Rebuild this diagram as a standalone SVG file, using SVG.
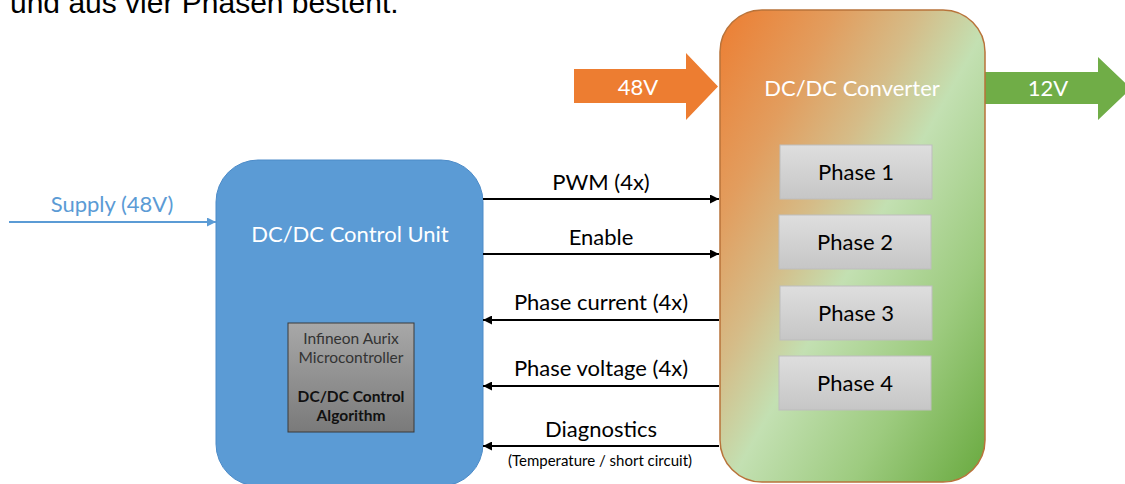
<svg xmlns="http://www.w3.org/2000/svg" width="1125" height="484" viewBox="0 0 1125 484">
  <defs>
    <linearGradient id="convFill" x1="0" y1="0" x2="1" y2="1">
      <stop offset="0" stop-color="#ED7D31"/>
      <stop offset="0.22" stop-color="#E29D5E"/>
      <stop offset="0.38" stop-color="#D5BC88"/>
      <stop offset="0.52" stop-color="#C3E0B2"/>
      <stop offset="0.75" stop-color="#9DCB7F"/>
      <stop offset="1" stop-color="#68A93E"/>
    </linearGradient>
    <linearGradient id="phaseFill" x1="0" y1="0" x2="0" y2="1">
      <stop offset="0" stop-color="#DEDEDE"/>
      <stop offset="1" stop-color="#C6C6C6"/>
    </linearGradient>
    <linearGradient id="mcuFill" x1="0" y1="0" x2="0" y2="1">
      <stop offset="0" stop-color="#A8A8A8"/>
      <stop offset="1" stop-color="#7A7A7A"/>
    </linearGradient>
    <marker id="headBlack" viewBox="0 0 10 10" refX="10" refY="5" markerWidth="4.5" markerHeight="4.5" orient="auto">
      <path d="M0,0 L10,5 L0,10 Z" fill="#000"/>
    </marker>
    <marker id="headBlue" viewBox="0 0 10 10" refX="10" refY="5" markerWidth="4.5" markerHeight="4.5" orient="auto">
      <path d="M0,0 L10,5 L0,10 Z" fill="#5B9BD5"/>
    </marker>
  </defs>
  <style>
    .sans { font-family: Lato, "Open Sans", "Liberation Sans", sans-serif; }
    .lbl { font-size: 22px; fill: #000; text-anchor: middle; }
    .white { font-size: 22px; fill: #FFFFFF; text-anchor: middle; }
    .wire { stroke: #000; stroke-width: 2; fill: none; }
    .phase rect { fill: url(#phaseFill); stroke: #BDBDBD; stroke-width: 1; }
    .mcu-txt { font-size: 15.5px; text-anchor: middle; }
  </style>

  <!-- heading line, partly above the top edge -->
  <text x="10" y="13" font-family="'Liberation Sans', Arial, sans-serif" font-size="30" fill="#000">und aus vier Phasen besteht.</text>

  <!-- power in / out arrows -->
  <g id="in48">
    <path d="M574,69 H686 V53 L718,86.5 L686,120 V103 H574 Z" fill="#ED7D31"/>
    <text class="sans white" x="638" y="95">48V</text>
  </g>
  <g id="out12">
    <path d="M985,72 H1098 V57 L1131,88.5 L1098,120 V104 H985 Z" fill="#70AD47"/>
    <text class="sans white" x="1048" y="96">12V</text>
  </g>

  <!-- DC/DC converter with its four phases -->
  <g id="converter">
    <rect x="720" y="10" width="265" height="472" rx="42" ry="42" fill="url(#convFill)" stroke="#B8733A" stroke-width="1.5"/>
    <text class="sans white" x="852" y="96">DC/DC Converter</text>
  </g>
  <g id="phase1" class="phase">
    <rect x="780" y="145" width="152" height="54"/>
    <text class="sans lbl" x="856" y="180">Phase 1</text>
  </g>
  <g id="phase2" class="phase">
    <rect x="779" y="215" width="152" height="54"/>
    <text class="sans lbl" x="855" y="250">Phase 2</text>
  </g>
  <g id="phase3" class="phase">
    <rect x="780" y="286" width="152" height="54"/>
    <text class="sans lbl" x="856" y="321">Phase 3</text>
  </g>
  <g id="phase4" class="phase">
    <rect x="779" y="356" width="152" height="54"/>
    <text class="sans lbl" x="855" y="391">Phase 4</text>
  </g>

  <!-- control unit -->
  <g id="controlUnit">
    <rect x="216" y="160" width="267" height="326" rx="42" ry="42" fill="#5B9BD5" stroke="#4C8BC8" stroke-width="1"/>
    <text class="sans white" x="350" y="242">DC/DC Control Unit</text>
  </g>
  <g id="mcu">
    <rect x="288" y="323" width="126" height="109" fill="url(#mcuFill)" stroke="#3A3A3A" stroke-width="1"/>
    <text class="sans mcu-txt" x="351" y="344" fill="#333">Infineon Aurix</text>
    <text class="sans mcu-txt" x="351" y="363" fill="#333">Microcontroller</text>
    <text class="sans mcu-txt" x="351" y="402" fill="#111" font-weight="bold">DC/DC Control</text>
    <text class="sans mcu-txt" x="351" y="421" fill="#111" font-weight="bold">Algorithm</text>
  </g>

  <!-- signal connectors -->
  <g id="connectors">
    <line x1="9" y1="222" x2="216" y2="222" stroke="#5B9BD5" stroke-width="2" marker-end="url(#headBlue)"/>
    <text class="sans" x="112" y="212" font-size="22" fill="#5B9BD5" text-anchor="middle">Supply (48V)</text>

    <line class="wire" x1="483" y1="199" x2="719" y2="199" marker-end="url(#headBlack)"/>
    <text class="sans lbl" x="601" y="190">PWM (4x)</text>

    <line class="wire" x1="483" y1="254" x2="719" y2="254" marker-end="url(#headBlack)"/>
    <text class="sans lbl" x="601" y="245">Enable</text>

    <line class="wire" x1="719" y1="320" x2="483" y2="320" marker-end="url(#headBlack)"/>
    <text class="sans lbl" x="601" y="310">Phase current (4x)</text>

    <line class="wire" x1="719" y1="386" x2="483" y2="386" marker-end="url(#headBlack)"/>
    <text class="sans lbl" x="601" y="376">Phase voltage (4x)</text>

    <line class="wire" x1="719" y1="446" x2="483" y2="446" marker-end="url(#headBlack)"/>
    <text class="sans lbl" x="601" y="437">Diagnostics</text>
    <text class="sans" x="600" y="466" font-size="15" fill="#000" text-anchor="middle">(Temperature / short circuit)</text>
  </g>
</svg>
